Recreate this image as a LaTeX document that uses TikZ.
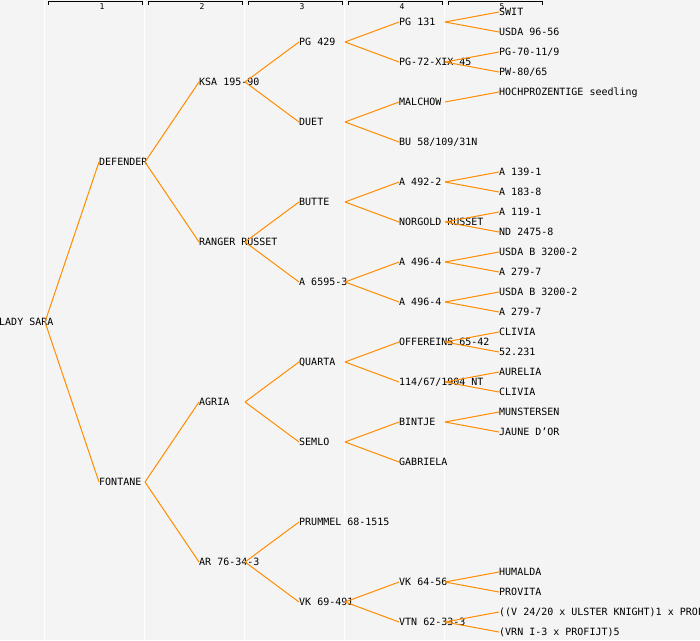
\documentclass[tikz,border=0pt]{standalone}
\usepackage{fontspec}
\usepackage{xcolor}
\newfontfamily\pedfont{DejaVu Sans Mono}
\definecolor{lineOrange}{RGB}{255,140,0}
\definecolor{paperGray}{RGB}{244,244,244}

\begin{document}
\begin{tikzpicture}[
    x=1pt, y=-1pt,
    plant/.style={anchor=west, inner sep=0pt, text height=7.3pt, text depth=0pt, font=\pedfont\fontsize{10}{12}\selectfont},
    gen/.style={inner sep=0pt, font=\pedfont\fontsize{8}{9}\selectfont},
    edge/.style={draw=lineOrange, line width=1pt},
    bracket/.style={draw=black, line width=1pt},
    colline/.style={draw=white, line width=1pt}
]

\useasboundingbox (0,0) rectangle (700,640);
\fill[paperGray] (0,0) rectangle (700,640);

\draw[colline] (44.5,0) -- (44.5,640);
\draw[colline] (144.5,0) -- (144.5,640);
\draw[colline] (244.5,0) -- (244.5,640);
\draw[colline] (344.5,0) -- (344.5,640);
\draw[colline] (444.5,0) -- (444.5,640);

\draw[bracket] (48.5,5) |- (142.5,1.5) -- (142.5,5);
\draw[bracket] (148.5,5) |- (242.5,1.5) -- (242.5,5);
\draw[bracket] (248.5,5) |- (342.5,1.5) -- (342.5,5);
\draw[bracket] (348.5,5) |- (442.5,1.5) -- (442.5,5);
\draw[bracket] (448.5,5) |- (542.5,1.5) -- (542.5,5);
\node[gen] (gen1) at (102,6.5) {1};
\node[gen] (gen2) at (202,6.5) {2};
\node[gen] (gen3) at (302,6.5) {3};
\node[gen] (gen4) at (402,6.5) {4};
\node[gen] (gen5) at (502,6.5) {5};

\coordinate (c0) at (45,0);
\coordinate (c1) at (145,0);
\coordinate (c2) at (245,0);
\coordinate (c3) at (345,0);
\coordinate (c4) at (445,0);

\node[plant] (ladysara) at (-1,322) {LADY SARA};

\node[plant] (defender) at (99,162) {DEFENDER};
\node[plant] (fontane) at (99,482) {FONTANE};

\node[plant] (ksa) at (199,82) {KSA 195-90};
\node[plant] (ranger) at (199,242) {RANGER RUSSET};
\node[plant] (agria) at (199,402) {AGRIA};
\node[plant] (ar76) at (199,562) {AR 76-34-3};

\node[plant] (pg429) at (299,42) {PG 429};
\node[plant] (duet) at (299,122) {DUET};
\node[plant] (butte) at (299,202) {BUTTE};
\node[plant] (a6595) at (299,282) {A 6595-3};
\node[plant] (quarta) at (299,362) {QUARTA};
\node[plant] (semlo) at (299,442) {SEMLO};
\node[plant] (prummel) at (299,522) {PRUMMEL 68-1515};
\node[plant] (vk69) at (299,602) {VK 69-491};

\node[plant] (pg131) at (399,22) {PG 131};
\node[plant] (pg72) at (399,62) {PG-72-XIX 45};
\node[plant] (malchow) at (399,102) {MALCHOW};
\node[plant] (bu58) at (399,142) {BU 58/109/31N};
\node[plant] (a492) at (399,182) {A 492-2};
\node[plant] (norgold) at (399,222) {NORGOLD RUSSET};
\node[plant] (a496a) at (399,262) {A 496-4};
\node[plant] (a496b) at (399,302) {A 496-4};
\node[plant] (offereins) at (399,342) {OFFEREINS 65-42};
\node[plant] (nt114) at (399,382) {114/67/1904 NT};
\node[plant] (bintje) at (399,422) {BINTJE};
\node[plant] (gabriela) at (399,462) {GABRIELA};
\node[plant] (vk64) at (399,582) {VK 64-56};
\node[plant] (vtn62) at (399,622) {VTN 62-33-3};

\node[plant] (swit) at (499,12) {SWIT};
\node[plant] (usda96) at (499,32) {USDA 96-56};
\node[plant] (pg70) at (499,52) {PG-70-11/9};
\node[plant] (pw80) at (499,72) {PW-80/65};
\node[plant] (hoch) at (499,92) {HOCHPROZENTIGE seedling};
\node[plant] (a139) at (499,172) {A 139-1};
\node[plant] (a183) at (499,192) {A 183-8};
\node[plant] (a119) at (499,212) {A 119-1};
\node[plant] (nd2475) at (499,232) {ND 2475-8};
\node[plant] (usdaba) at (499,252) {USDA B 3200-2};
\node[plant] (a279a) at (499,272) {A 279-7};
\node[plant] (usdabb) at (499,292) {USDA B 3200-2};
\node[plant] (a279b) at (499,312) {A 279-7};
\node[plant] (cliviaa) at (499,332) {CLIVIA};
\node[plant] (n52231) at (499,352) {52.231};
\node[plant] (aurelia) at (499,372) {AURELIA};
\node[plant] (cliviab) at (499,392) {CLIVIA};
\node[plant] (munstersen) at (499,412) {MUNSTERSEN};
\node[plant] (jaune) at (499,432) {JAUNE D’OR};
\node[plant] (humalda) at (499,572) {HUMALDA};
\node[plant] (provita) at (499,592) {PROVITA};
\node[plant] (ulster) at (499,612) {((V 24/20 x ULSTER KNIGHT)1 x PROF};
\node[plant] (vrn) at (499,632) {(VRN I-3 x PROFIJT)5};

\draw[edge] (c0 |- ladysara) -- (defender.west);
\draw[edge] (c0 |- ladysara) -- (fontane.west);

\draw[edge] (c1 |- defender) -- (ksa.west);
\draw[edge] (c1 |- defender) -- (ranger.west);
\draw[edge] (c1 |- fontane) -- (agria.west);
\draw[edge] (c1 |- fontane) -- (ar76.west);

\draw[edge] (c2 |- ksa) -- (pg429.west);
\draw[edge] (c2 |- ksa) -- (duet.west);
\draw[edge] (c2 |- ranger) -- (butte.west);
\draw[edge] (c2 |- ranger) -- (a6595.west);
\draw[edge] (c2 |- agria) -- (quarta.west);
\draw[edge] (c2 |- agria) -- (semlo.west);
\draw[edge] (c2 |- ar76) -- (prummel.west);
\draw[edge] (c2 |- ar76) -- (vk69.west);

\draw[edge] (c3 |- pg429) -- (pg131.west);
\draw[edge] (c3 |- pg429) -- (pg72.west);
\draw[edge] (c3 |- duet) -- (malchow.west);
\draw[edge] (c3 |- duet) -- (bu58.west);
\draw[edge] (c3 |- butte) -- (a492.west);
\draw[edge] (c3 |- butte) -- (norgold.west);
\draw[edge] (c3 |- a6595) -- (a496a.west);
\draw[edge] (c3 |- a6595) -- (a496b.west);
\draw[edge] (c3 |- quarta) -- (offereins.west);
\draw[edge] (c3 |- quarta) -- (nt114.west);
\draw[edge] (c3 |- semlo) -- (bintje.west);
\draw[edge] (c3 |- semlo) -- (gabriela.west);
\draw[edge] (c3 |- vk69) -- (vk64.west);
\draw[edge] (c3 |- vk69) -- (vtn62.west);

\draw[edge] (c4 |- pg131) -- (swit.west);
\draw[edge] (c4 |- pg131) -- (usda96.west);
\draw[edge] (c4 |- pg72) -- (pg70.west);
\draw[edge] (c4 |- pg72) -- (pw80.west);
\draw[edge] (c4 |- malchow) -- (hoch.west);
\draw[edge] (c4 |- a492) -- (a139.west);
\draw[edge] (c4 |- a492) -- (a183.west);
\draw[edge] (c4 |- norgold) -- (a119.west);
\draw[edge] (c4 |- norgold) -- (nd2475.west);
\draw[edge] (c4 |- a496a) -- (usdaba.west);
\draw[edge] (c4 |- a496a) -- (a279a.west);
\draw[edge] (c4 |- a496b) -- (usdabb.west);
\draw[edge] (c4 |- a496b) -- (a279b.west);
\draw[edge] (c4 |- offereins) -- (cliviaa.west);
\draw[edge] (c4 |- offereins) -- (n52231.west);
\draw[edge] (c4 |- nt114) -- (aurelia.west);
\draw[edge] (c4 |- nt114) -- (cliviab.west);
\draw[edge] (c4 |- bintje) -- (munstersen.west);
\draw[edge] (c4 |- bintje) -- (jaune.west);
\draw[edge] (c4 |- vk64) -- (humalda.west);
\draw[edge] (c4 |- vk64) -- (provita.west);
\draw[edge] (c4 |- vtn62) -- (ulster.west);
\draw[edge] (c4 |- vtn62) -- (vrn.west);

\end{tikzpicture}
\end{document}
